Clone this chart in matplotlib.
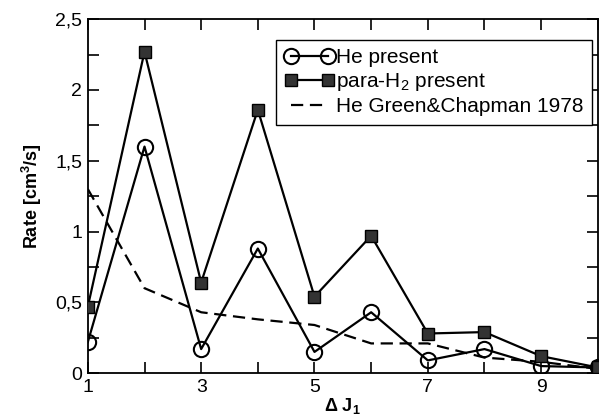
import matplotlib
matplotlib.use("Agg")
import matplotlib.pyplot as plt
from matplotlib.ticker import MultipleLocator, FuncFormatter

plt.rcParams['font.family'] = ['Liberation Sans', 'DejaVu Sans']
plt.rcParams['mathtext.fontset'] = 'custom'
plt.rcParams['mathtext.rm'] = 'Liberation Sans'
plt.rcParams['mathtext.bf'] = 'Liberation Sans:bold'

dj = [1, 2, 3, 4, 5, 6, 7, 8, 9, 10]
he_present = [0.22, 1.60, 0.17, 0.88, 0.15, 0.43, 0.09, 0.17, 0.05, 0.04]
h2_present = [0.47, 2.27, 0.64, 1.86, 0.54, 0.97, 0.28, 0.29, 0.12, 0.04]
he_gc1978 = [1.30, 0.60, 0.43, 0.38, 0.34, 0.21, 0.21, 0.11, 0.08, 0.03]

fig = plt.figure(figsize=(6.1, 4.16), dpi=100)
ax = fig.add_axes([0.144, 0.103, 0.836, 0.851])

ax.plot(dj, he_present, color='black', lw=1.6, marker='o', ms=11,
        mfc='none', mec='black', mew=1.5, label='He present', zorder=3)
ax.plot(dj, h2_present, color='black', lw=1.6, marker='s', ms=8.5,
        mfc='#333333', mec='black', mew=1.0, label='para-H$_2$ present', zorder=3)
ax.plot(dj, he_gc1978, color='black', lw=1.6, ls=(0, (5.5, 3)),
        label='He Green&Chapman 1978', zorder=2)

ax.set_xlim(1, 10)
ax.set_ylim(0, 2.5)
ax.set_xticks([1, 3, 5, 7, 9])
ax.set_xticks([2, 4, 6, 8, 10], minor=True)
ax.yaxis.set_major_locator(MultipleLocator(0.5))
ax.yaxis.set_minor_locator(MultipleLocator(0.25))

def fmt(v, pos):
    return ('%g' % v).replace('.', ',')
ax.yaxis.set_major_formatter(FuncFormatter(fmt))

ax.tick_params(which='both', direction='in', top=True, right=True, width=1.2,
               labelsize=14, length=8)
ax.tick_params(axis='y', pad=4)
ax.tick_params(axis='x', pad=4)
for s in ax.spines.values():
    s.set_linewidth(1.3)

ax.set_xlabel(r'$\mathbf{\Delta}$ J$_\mathbf{1}$', fontsize=13, fontweight='bold', labelpad=0)
ax.set_ylabel(r'Rate [cm$^\mathbf{3}$/s]', fontsize=13, fontweight='bold', labelpad=8)

leg = ax.legend(loc='upper right', bbox_to_anchor=(0.988, 0.942), numpoints=2,
                fontsize=15, fancybox=False, edgecolor='black', framealpha=1,
                handlelength=2.35, handletextpad=0.1, borderpad=0.4,
                labelspacing=0.2, borderaxespad=0.0)
leg.get_frame().set_linewidth(1.0)

fig.savefig('out.png', dpi=100)
